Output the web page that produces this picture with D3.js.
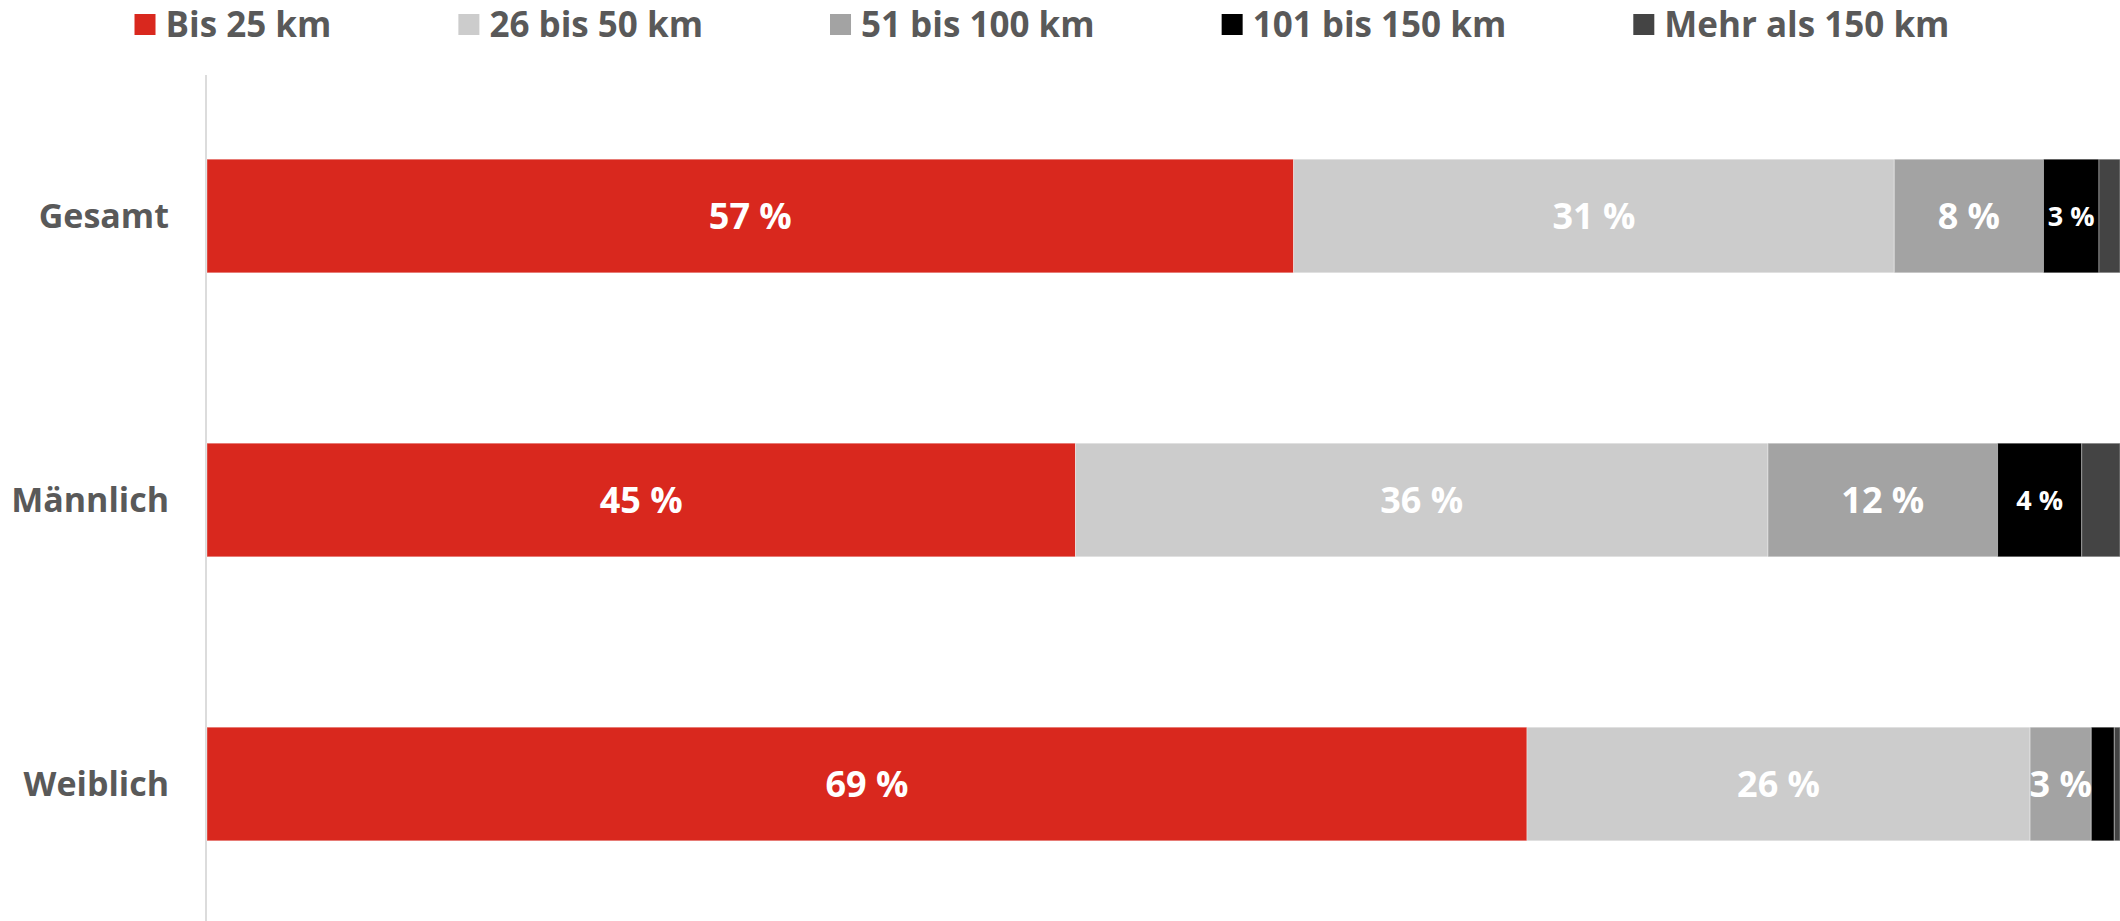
<!DOCTYPE html>
<html>
<head>
<meta charset="utf-8">
<script src="https://cdn.jsdelivr.net/npm/d3@7/dist/d3.min.js"></script>
<style>
  html, body { margin: 0; padding: 0; background: #fff; }
  svg { display: block; }
  text { font-family: "Open Sans", "Noto Sans", sans-serif; font-weight: 700; }
</style>
</head>
<body>
<svg id="chart" width="2120" height="921"></svg>
<script>
// Distance categories (stack order, left to right)
const seriesNames = ["Bis 25 km", "26 bis 50 km", "51 bis 100 km", "101 bis 150 km", "Mehr als 150 km"];
const seriesColors = ["#d9281e", "#cccccc", "#a3a3a3", "#000000", "#444444"];

// Groups shown as rows
const categories = ["Gesamt", "Männlich", "Weiblich"];

// Share of respondents per distance (percent), one array per row
const gesamt   = [56.8, 31.4, 7.8, 2.9, 1.1];
const maennlich = [45.4, 36.2, 12.0, 4.4, 2.0];
const weiblich = [69.0, 26.3, 3.2, 1.2, 0.3];

const rowValues = [gesamt, maennlich, weiblich];

const W = 2120, H = 921;
const svg = d3.select("#chart");

const x = d3.scaleLinear().domain([0, 100]).range([207, 2120]);
const y = d3.scaleBand().domain(categories).range([74, 926]).paddingInner(0.6).paddingOuter(0.3);

// Build stacked data
const table = categories.map((c, i) => {
  const row = { category: c };
  seriesNames.forEach((s, j) => row[s] = rowValues[i][j]);
  return row;
});
const stacked = d3.stack().keys(seriesNames)(table);

// Vertical axis line
svg.append("line")
  .attr("x1", 206).attr("x2", 206)
  .attr("y1", 75).attr("y2", H)
  .attr("stroke", "#dcdcdc").attr("stroke-width", 2);

// Bars
const layers = svg.append("g").selectAll("g")
  .data(stacked)
  .join("g")
  .attr("fill", (d, i) => seriesColors[i]);

layers.selectAll("rect")
  .data(d => d.map(v => ({ v, key: d.key })))
  .join("rect")
  .attr("x", d => x(d.v[0]))
  .attr("width", d => x(d.v[1]) - x(d.v[0]))
  .attr("y", d => y(d.v.data.category))
  .attr("height", y.bandwidth())
  .attr("stroke", "rgba(255,255,255,0.35)")
  .attr("stroke-width", 1);

// Value labels
const fmt = v => Math.round(v) + " %";
const labels = svg.append("g");
stacked.forEach((layer, si) => {
  layer.forEach(v => {
    const val = v[1] - v[0];
    if (val < 2.5) return;
    labels.append("text")
      .attr("x", (x(v[0]) + x(v[1])) / 2)
      .attr("y", y(v.data.category) + y.bandwidth() / 2)
      .attr("dy", "0.36em")
      .attr("text-anchor", "middle")
      .attr("fill", "#ffffff")
      .attr("font-size", si === 3 ? 27 : 36)
      .text(fmt(val));
  });
});

// Category labels
svg.append("g").selectAll("text")
  .data(categories)
  .join("text")
  .attr("x", 169)
  .attr("y", d => y(d) + y.bandwidth() / 2)
  .attr("dy", "0.36em")
  .attr("text-anchor", "end")
  .attr("fill", "#595959")
  .attr("font-size", 34)
  .text(d => d);

// Legend (flow layout, centred)
const legend = svg.append("g");
const items = legend.selectAll("g")
  .data(seriesNames)
  .join("g");
items.append("rect")
  .attr("width", 21).attr("height", 21)
  .attr("y", 14)
  .attr("fill", (d, i) => seriesColors[i]);
items.append("text")
  .attr("x", 31)
  .attr("y", 37)
  .attr("fill", "#595959")
  .attr("font-size", 35)
  .text(d => d);

let cursor = 0;
const gap = 127;
items.each(function () {
  const g = d3.select(this);
  const tw = g.select("text").node().getComputedTextLength();
  g.attr("transform", `translate(${cursor},0)`);
  cursor += 31 + tw + gap;
});
const total = cursor - gap;
legend.attr("transform", `translate(${1042 - total / 2},0)`);
</script>
</body>
</html>
